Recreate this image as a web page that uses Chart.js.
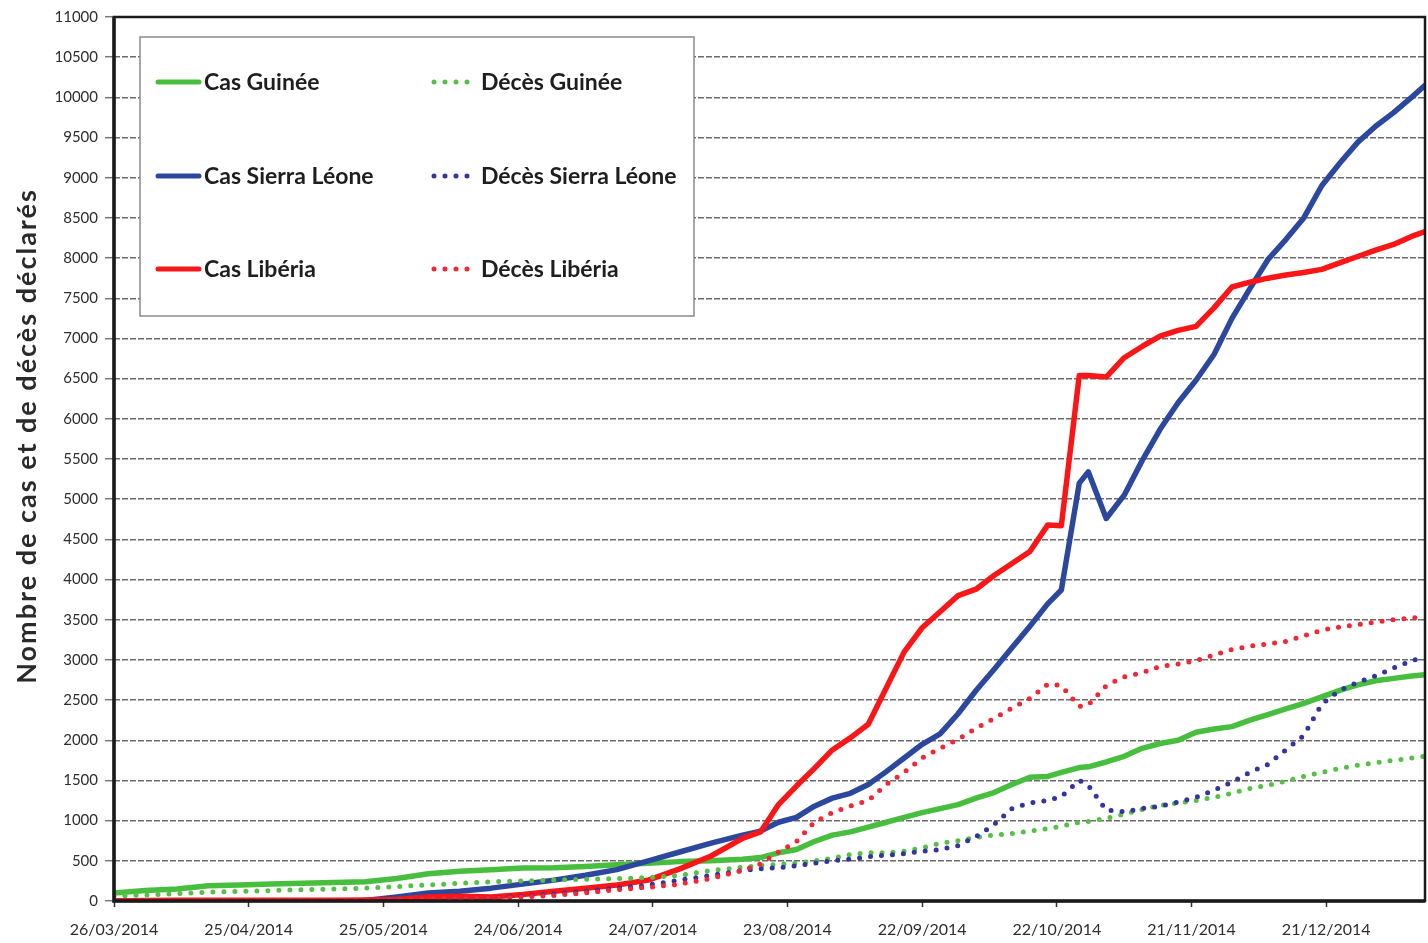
<!DOCTYPE html>
<html lang="fr">
<head>
<meta charset="utf-8">
<title>Ebola – cas et décès déclarés</title>
<script src="https://cdn.jsdelivr.net/npm/chart.js@4.4.1/dist/chart.umd.min.js"></script>
<style>
  html, body { margin: 0; padding: 0; background: #ffffff; }
  #wrap { width: 1428px; height: 943px; }
</style>
</head>
<body>
<div id="wrap"><canvas id="c" width="1428" height="943"></canvas></div>
<script>
// Day offsets from 26/03/2014 at which the cumulative counts are plotted
const days = [0,7,14,21,28,35,42,49,56,63,70,77,84,91,98,105,112,119,126,133,140,
  144,148,152,156,160,164,168,172,176,180,184,188,192,196,200,204,208,
  211,215,217,221,
  225,229,233,237,241,245,249,253,257,261,265,269,273,277,281,285,289,292];

const casGuinee = [100,130,150,190,200,210,220,230,240,280,340,370,390,410,415,430,450,470,490,500,520,
  540,600,640,740,820,860,920,980,1040,1100,1150,1200,1280,1350,1450,1540,1550,
  1600,1660,1670,1730,
  1800,1900,1960,2000,2100,2140,2170,2250,2320,2390,2460,2540,2620,2690,2740,2770,2800,2815];

const decesGuinee = [60,75,90,110,120,130,140,150,160,180,200,220,240,250,260,270,280,290,320,380,420,
  440,455,470,500,530,580,600,600,620,660,720,750,790,820,840,870,900,
  930,980,990,1030,
  1080,1140,1190,1220,1250,1290,1340,1400,1440,1490,1550,1600,1650,1690,1720,1750,1780,1800];

const casSierraLeone = [0,0,0,0,0,0,0,0,5,50,100,120,160,210,260,320,390,500,610,720,820,
  870,980,1040,1180,1280,1340,1450,1610,1780,1950,2080,2330,2620,2880,3150,3420,3700,
  3870,5200,5340,4760,
  5050,5480,5870,6200,6480,6800,7250,7620,7980,8230,8500,8900,9180,9440,9640,9810,10000,10150];

const decesSierraLeone = [0,0,0,0,0,0,0,0,0,5,15,25,40,60,90,120,160,200,260,320,380,
  400,415,440,470,500,520,550,570,590,620,640,690,800,950,1150,1220,1250,
  1300,1500,1440,1130,
  1110,1150,1180,1230,1290,1380,1480,1600,1700,1880,2060,2450,2620,2720,2800,2900,2990,3040];

const casLiberia = [0,5,8,10,10,10,10,10,12,20,50,60,50,80,120,160,200,260,400,560,780,
  860,1200,1430,1650,1880,2030,2200,2650,3100,3400,3600,3800,3880,4050,4200,4350,4680,
  4670,6540,6540,6520,
  6760,6900,7030,7100,7150,7380,7640,7700,7750,7790,7820,7860,7940,8020,8100,8170,8270,8330];

const decesLiberia = [0,2,4,5,6,6,7,8,8,15,25,30,35,50,70,100,140,170,210,280,380,
  460,610,740,980,1100,1180,1250,1450,1600,1780,1900,2010,2150,2270,2400,2520,2700,
  2680,2420,2440,2680,
  2790,2840,2920,2950,2990,3060,3130,3170,3200,3230,3300,3370,3410,3440,3470,3500,3520,3540];

// Date axis: one tick every 30 days
const tickDays = [0,30,60,90,120,150,180,210,240,270];
const tickLabels = ['26/03/2014','25/04/2014','25/05/2014','24/06/2014','24/07/2014',
  '23/08/2014','22/09/2014','22/10/2014','21/11/2014','21/12/2014'];

const yTitle = 'Nombre de cas et de décès déclarés';
const FONT = 'Lato, "Open Sans", "DejaVu Sans", sans-serif';

const GREEN = 'rgb(72,190,62)';
const BLUE = 'rgb(44,72,158)';
const RED = 'rgb(250,22,22)';
const GREEN_DOT = 'rgb(84,192,70)';
const BLUE_DOT = 'rgb(52,52,158)';
const RED_DOT = 'rgb(242,38,52)';

function pts(values) {
  return days.map((d, i) => ({ x: d, y: values[i] }));
}

function solid(label, values, color, order) {
  return {
    label, data: pts(values), borderColor: color, backgroundColor: color,
    borderWidth: 5.5, pointRadius: 0, tension: 0, borderJoinStyle: 'round',
    borderCapStyle: 'round', fill: false, order
  };
}
function dotted(label, values, color, order) {
  return {
    label, data: pts(values), borderColor: color, backgroundColor: color,
    borderWidth: 5, pointRadius: 0, tension: 0, borderDash: [0, 11],
    borderCapStyle: 'round', fill: false, order
  };
}

const datasets = [
  solid('Cas Guinée', casGuinee, GREEN, 6),
  dotted('Décès Guinée', decesGuinee, GREEN_DOT, 3),
  solid('Cas Sierra Léone', casSierraLeone, BLUE, 5),
  dotted('Décès Sierra Léone', decesSierraLeone, BLUE_DOT, 2),
  solid('Cas Libéria', casLiberia, RED, 4),
  dotted('Décès Libéria', decesLiberia, RED_DOT, 1)
];

// Frame around the plotting area
const framePlugin = {
  id: 'frame',
  afterDraw(chart) {
    const { ctx, chartArea: a } = chart;
    ctx.save();
    ctx.strokeStyle = '#1a1a1a';
    ctx.lineWidth = 2.5;
    ctx.strokeRect(a.left, a.top, a.right - a.left, a.bottom - a.top);
    ctx.lineWidth = 3.5;
    ctx.beginPath();
    ctx.moveTo(a.left, a.top); ctx.lineTo(a.left, a.bottom); ctx.lineTo(a.right, a.bottom);
    ctx.stroke();
    ctx.restore();
  }
};

// Vertical axis title
const yTitlePlugin = {
  id: 'yTitle',
  afterDraw(chart) {
    const { ctx } = chart;
    ctx.save();
    ctx.translate(27, 436);
    ctx.rotate(-Math.PI / 2);
    ctx.font = 'bold 27px ' + FONT;
    if ('letterSpacing' in ctx) ctx.letterSpacing = '2px';
    ctx.fillStyle = '#2a2a2a';
    ctx.textAlign = 'center';
    ctx.textBaseline = 'middle';
    ctx.fillText(yTitle, 0, 0);
    ctx.restore();
  }
};

// Two-column legend box in the upper-left of the plot
const legendPlugin = {
  id: 'boxLegend',
  afterDraw(chart) {
    const { ctx } = chart;
    const box = { x: 140, y: 37, w: 554, h: 279 };
    ctx.save();
    ctx.fillStyle = '#ffffff';
    ctx.fillRect(box.x, box.y, box.w, box.h);
    ctx.strokeStyle = '#8a8a8a';
    ctx.lineWidth = 1.5;
    ctx.strokeRect(box.x, box.y, box.w, box.h);
    const rows = [82, 176, 269];
    const cols = [{ x0: 158, x1: 199, tx: 204 }, { x0: 434, x1: 474, tx: 481 }];
    chart.data.datasets.forEach((ds, i) => {
      const r = Math.floor(i / 2), c = i % 2;
      const y = rows[r], col = cols[c];
      ctx.beginPath();
      ctx.strokeStyle = ds.borderColor;
      ctx.lineWidth = 5;
      ctx.lineCap = 'round';
      ctx.setLineDash(ds.borderDash ? [0, 11] : []);
      ctx.moveTo(col.x0, y); ctx.lineTo(col.x1, y);
      ctx.stroke();
      ctx.setLineDash([]);
      ctx.fillStyle = '#1e1e1e';
      ctx.font = 'bold 23px ' + FONT;
      ctx.textAlign = 'left';
      ctx.textBaseline = 'middle';
      ctx.fillText(ds.label, col.tx, y + 1);
    });
    ctx.restore();
  }
};

new Chart(document.getElementById('c'), {
  type: 'line',
  data: { datasets },
  options: {
    responsive: false,
    animation: false,
    devicePixelRatio: 1,
    layout: { padding: { top: 17, right: 3, left: 0, bottom: 0 } },
    plugins: { legend: { display: false }, tooltip: { enabled: false } },
    scales: {
      x: {
        type: 'linear', min: 0, max: 292,
        afterBuildTicks(scale) { scale.ticks = tickDays.map(v => ({ value: v })); },
        afterFit(scale) { scale.height = 42; },
        ticks: {
          autoSkip: false, maxRotation: 0, padding: 13,
          color: '#2e2e2e', font: { family: FONT, size: 16 },
          callback: (v, i) => tickLabels[i]
        },
        grid: { drawOnChartArea: false, drawTicks: true, tickLength: 6, tickColor: '#333', tickWidth: 1.5 },
        border: { display: false }
      },
      y: {
        type: 'linear', min: 0, max: 11000,
        afterFit(scale) { scale.width = 114; },
        ticks: {
          stepSize: 500, padding: 7,
          color: '#2e2e2e', font: { family: FONT, size: 15 },
          callback: v => String(v)
        },
        grid: {
          color: 'rgba(70,70,70,0.8)', lineWidth: 1.4,
          drawTicks: true, tickLength: 9, tickColor: '#7a7a7a', tickWidth: 1.5
        },
        border: { display: false, dash: [6, 2] }
      }
    }
  },
  plugins: [framePlugin, legendPlugin, yTitlePlugin]
});
</script>
</body>
</html>
